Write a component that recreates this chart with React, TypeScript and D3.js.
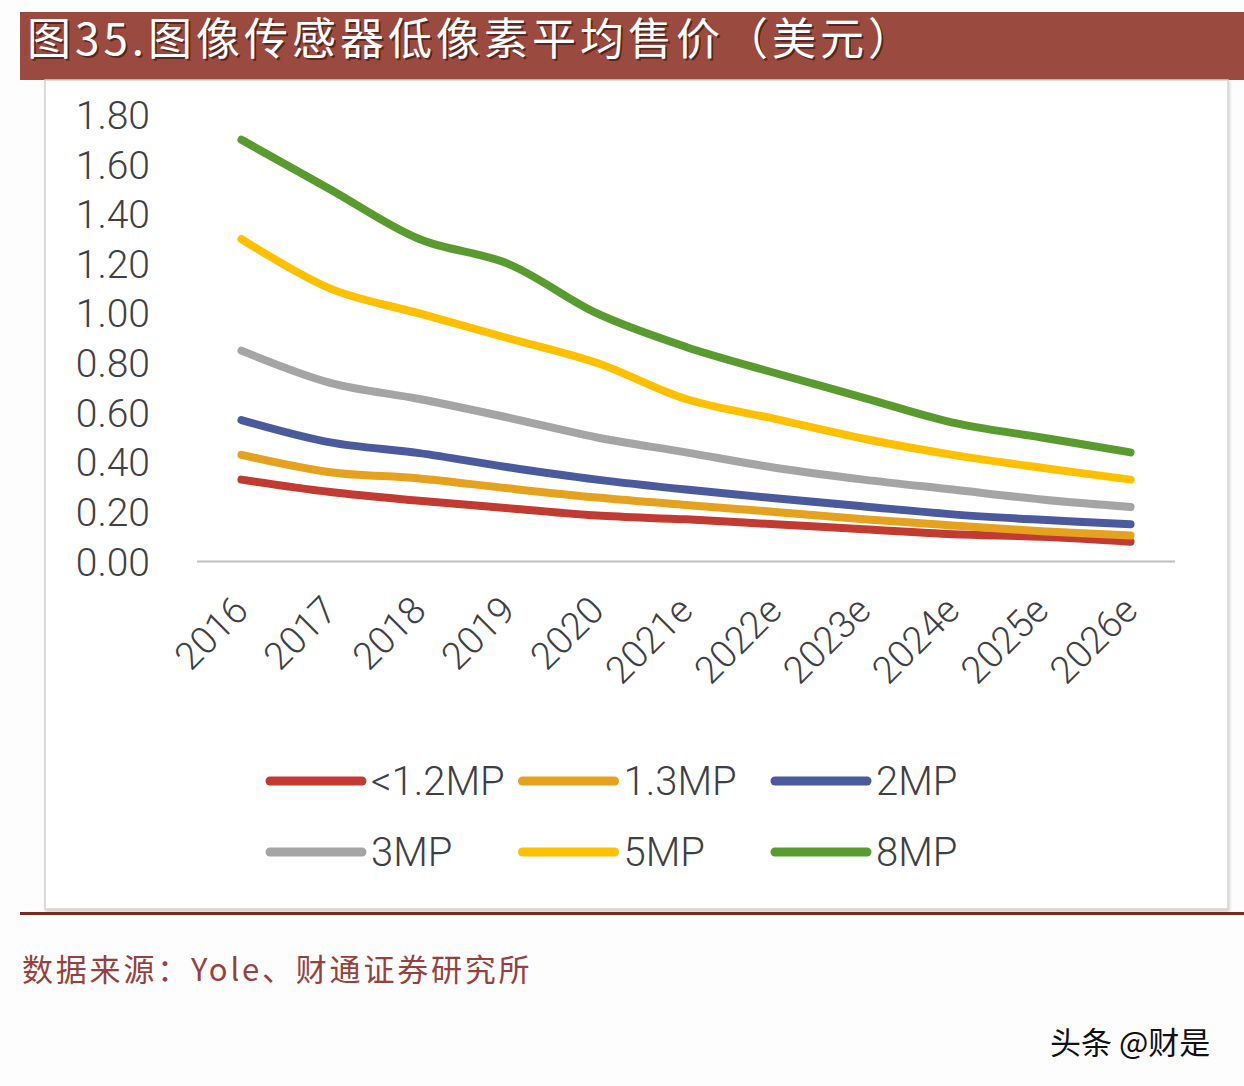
import React from 'react'
import * as d3 from 'd3'

// categories and series
const years = ['2016', '2017', '2018', '2019', '2020', '2021e', '2022e', '2023e', '2024e', '2025e', '2026e']

const mp12 = [0.33, 0.28, 0.245, 0.215, 0.185, 0.17, 0.15, 0.13, 0.11, 0.1, 0.08]
const mp13 = [0.43, 0.36, 0.335, 0.295, 0.258, 0.228, 0.2, 0.17, 0.145, 0.122, 0.105]
const mp2 = [0.57, 0.48, 0.437, 0.38, 0.33, 0.29, 0.255, 0.222, 0.19, 0.168, 0.15]
const mp3 = [0.85, 0.72, 0.655, 0.58, 0.5, 0.44, 0.378, 0.33, 0.29, 0.25, 0.22]
const mp5 = [1.3, 1.1, 1.0, 0.9, 0.8, 0.655, 0.575, 0.495, 0.43, 0.378, 0.33]
const mp8 = [1.7, 1.5, 1.3, 1.2, 1.0, 0.865, 0.76, 0.66, 0.56, 0.5, 0.44]

const yTicks = [0, 0.2, 0.4, 0.6, 0.8, 1.0, 1.2, 1.4, 1.6, 1.8]

const seriesNames = ['<1.2MP', '1.3MP', '2MP', '3MP', '5MP', '8MP']
const seriesValues = [mp12, mp13, mp2, mp3, mp5, mp8]

const COLORS = ['#C23B33', '#E5A21F', '#4B5A9C', '#A5A5A5', '#FFC000', '#5A9B30']

const W = 1244
const H = 1086
const FONT = 'Roboto, "Noto Sans", Arial, sans-serif'
const CJK = '"Noto Sans CJK SC", "Noto Sans", sans-serif'
const LABEL = '#3F3F46'

export default function App() {
  const x = d3.scaleBand<string>().domain(years).range([197, 1175])
  const cx = (c: string) => (x(c) ?? 0) + x.bandwidth() / 2
  const y = d3.scaleLinear().domain([0, 1.8]).range([561.5, 115])

  const line = d3
    .line<number>()
    .x((_, i) => cx(years[i]))
    .y(d => y(d))
    .curve(d3.curveCatmullRom.alpha(0.5))

  // legend grid: 3 columns x 2 rows
  const legendX = d3.scalePoint<number>().domain([0, 1, 2]).range([270, 775])
  const legendY = d3.scalePoint<number>().domain([0, 1]).range([781, 852])

  return (
    <div style={{ position: 'absolute', left: 0, top: 0 }}>
      <svg width={W} height={H} style={{ display: 'block', background: '#fdfdfe' }}>
        <defs>
          <filter id="box-shadow" x="-5%" y="-5%" width="110%" height="110%">
            <feDropShadow dx="1" dy="2" stdDeviation="1.5" floodColor="#000" floodOpacity="0.18" />
          </filter>
        </defs>

        {/* title bar */}
        <rect x={20} y={12} width={W - 20} height={68} fill="#9B4A40" />
        <text
          x={27}
          y={55}
          fontFamily={CJK}
          fontSize={44}
          letterSpacing={4}
          fill="#3a1a14"
          opacity={0.7}
          dx={2}
          dy={2}
        >
          图35.图像传感器低像素平均售价（美元）
        </text>
        <text x={27} y={55} fontFamily={CJK} fontSize={44} letterSpacing={4} fill="#ffffff">
          图35.图像传感器低像素平均售价（美元）
        </text>

        {/* chart frame */}
        <rect
          x={45}
          y={80}
          width={1183}
          height={829}
          fill="#ffffff"
          stroke="#d4d4d8"
          strokeWidth={1.5}
          filter="url(#box-shadow)"
        />

        {/* y tick labels */}
        {yTicks.map(t => (
          <text
            key={t}
            x={150}
            y={y(t)}
            dy="0.36em"
            textAnchor="end"
            fontFamily={FONT}
            fontWeight={300}
            fontSize={39}
            fill={LABEL}
          >
            {t.toFixed(2)}
          </text>
        ))}

        {/* category axis */}
        <line x1={197} x2={1175} y1={y(0)} y2={y(0)} stroke="#bfbfbf" strokeWidth={2} />
        {years.map(c => (
          <text
            key={c}
            transform={`translate(${cx(c) + 9},${y(0) + 51}) rotate(-45)`}
            textAnchor="end"
            fontFamily={FONT}
            fontWeight={300}
            fontSize={38}
            fill={LABEL}
          >
            {c}
          </text>
        ))}

        {/* series lines */}
        {seriesValues.map((vals, i) => (
          <path
            key={seriesNames[i]}
            d={line(vals) ?? ''}
            fill="none"
            stroke={COLORS[i]}
            strokeWidth={8}
            strokeLinecap="round"
            strokeLinejoin="round"
          />
        ))}

        {/* legend */}
        {seriesNames.map((name, i) => {
          const lx = legendX(i % 3) ?? 0
          const ly = legendY(Math.floor(i / 3)) ?? 0
          return (
            <g key={name}>
              <line
                x1={lx}
                x2={lx + 92}
                y1={ly}
                y2={ly}
                stroke={COLORS[i]}
                strokeWidth={9}
                strokeLinecap="round"
              />
              <text
                x={lx + 101}
                y={ly}
                dy="0.36em"
                fontFamily={FONT}
                fontWeight={300}
                fontSize={40}
                fill={LABEL}
              >
                {name}
              </text>
            </g>
          )
        })}

        {/* bottom rule */}
        <rect x={20} y={912} width={W - 20} height={3} fill="#7a2a1f" />

        {/* source note */}
        <text x={22} y={981} fontFamily={CJK} fontSize={31} letterSpacing={2.8} fill="#96413f">
          数据来源：Yole、财通证券研究所
        </text>

        {/* watermark */}
        <text x={1050} y={1054} fontFamily={CJK} fontSize={31} fill="#111111">
          头条 @财是
        </text>
      </svg>
    </div>
  )
}
